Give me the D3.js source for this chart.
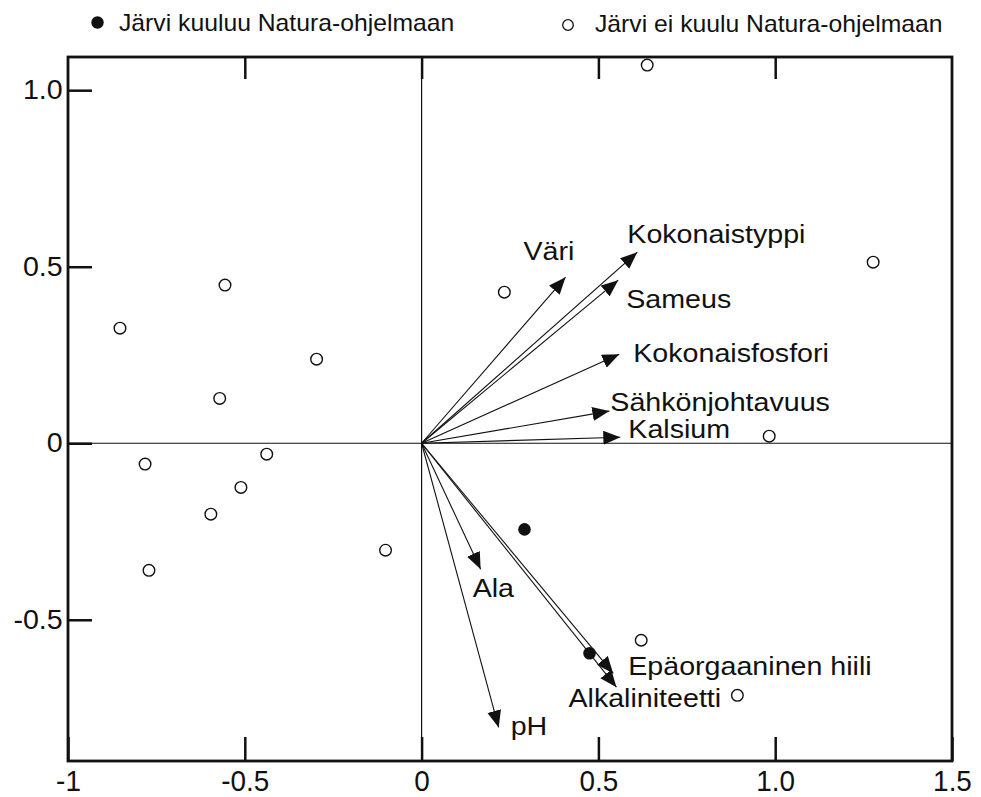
<!DOCTYPE html>
<html>
<head>
<meta charset="utf-8">
<script src="https://cdn.jsdelivr.net/npm/d3@7"></script>
<style>
  body { margin: 0; background: #fff; }
  svg { display: block; font-family: "Liberation Sans", Arial, Helvetica, sans-serif; }
</style>
</head>
<body>
<svg id="chart" width="981" height="797"></svg>
<script>
// Ordination biplot - lakes and environmental variables

// lakes in Natura programme (filled dots)
const naturaX = [0.291, 0.475];
const naturaY = [-0.244, -0.595];

// lakes not in Natura programme (open circles)
const otherX = [0.638, 1.277, 0.234, -0.853, -0.556, -0.297, -0.571, -0.782, -0.438, -0.511, -0.596, -0.771, -0.102, 0.621, 0.893, 0.983];
const otherY = [1.071, 0.513, 0.428, 0.326, 0.448, 0.238, 0.127, -0.059, -0.031, -0.125, -0.201, -0.360, -0.303, -0.558, -0.714, 0.020];

// environmental variable arrows
const varNames = ['Väri', 'Kokonaistyppi', 'Sameus', 'Kokonaisfosfori', 'Sähkönjohtavuus', 'Kalsium', 'Ala', 'pH', 'Epäorgaaninen hiili', 'Alkaliniteetti'];
const varX = [0.407, 0.610, 0.556, 0.559, 0.531, 0.562, 0.167, 0.218, 0.542, 0.551];
const varY = [0.470, 0.541, 0.462, 0.252, 0.091, 0.017, -0.357, -0.805, -0.652, -0.691];

// tick values
const xTicks = [-1, -0.5, 0, 0.5, 1.0, 1.5];
const xTickLabels = ['-1', '-0.5', '0', '0.5', '1.0', '1.5'];
const yTicks = [-0.5, 0, 0.5, 1.0];
const yTickLabels = ['-0.5', '0', '0.5', '1.0'];

const legendLabels = ['Järvi kuuluu Natura-ohjelmaan', 'Järvi ei kuulu Natura-ohjelmaan'];

// label offsets from arrow tips (px)
const labelOffsets = [[-42, -17], [-10, -9], [8, 28], [14, 8], [1, 0], [8, 1], [-8, 28], [12, 8], [15, 2], [-48, 20]];

const svg = d3.select('#chart');
const plotL = 68, plotR = 952, plotT = 57, plotB = 761;

const x = d3.scaleLinear().domain([-1, 1.5]).range([plotL, plotR]);
const y = d3.scaleLinear().domain([-0.9, 1.094]).range([plotB, plotT]);

// arrow head
svg.append('defs').append('marker')
    .attr('id', 'head')
    .attr('markerUnits', 'userSpaceOnUse')
    .attr('markerWidth', 19)
    .attr('markerHeight', 16)
    .attr('refX', 17)
    .attr('refY', 7)
    .attr('orient', 'auto')
    .append('path')
    .attr('d', 'M0,0 L17,7 L0,14 Z')
    .attr('fill', '#111');

// zero lines
svg.append('line')
    .attr('x1', plotL).attr('x2', plotR)
    .attr('y1', y(0)).attr('y2', y(0))
    .attr('stroke', '#111').attr('stroke-width', 1.2);
svg.append('line')
    .attr('x1', x(0)).attr('x2', x(0))
    .attr('y1', plotT).attr('y2', plotB)
    .attr('stroke', '#111').attr('stroke-width', 1.2);

// axes (ticks point inward)
const xAxis = svg.append('g')
    .attr('transform', `translate(0,${plotB})`)
    .call(d3.axisBottom(x).tickValues(xTicks)
        .tickFormat((d, i) => xTickLabels[i])
        .tickSizeInner(-24).tickSizeOuter(0).tickPadding(9));

const xAxisTop = svg.append('g')
    .attr('transform', `translate(0,${plotT})`)
    .call(d3.axisTop(x).tickValues(xTicks.slice(1, -1))
        .tickFormat('')
        .tickSizeInner(-22).tickSizeOuter(0));

const yAxis = svg.append('g')
    .attr('transform', `translate(${plotL},0)`)
    .call(d3.axisLeft(y).tickValues(yTicks)
        .tickFormat((d, i) => yTickLabels[i])
        .tickSizeInner(-24).tickSizeOuter(0).tickPadding(5));

[xAxis, xAxisTop, yAxis].forEach(g => {
    g.select('.domain').remove();
    g.selectAll('line').attr('stroke', '#111').attr('stroke-width', 2.5);
    g.selectAll('text').attr('fill', '#111');
    g.attr('font-family', null);
});
xAxis.selectAll('text').attr('font-size', 30).attr('transform', 'scale(0.93,1)');
yAxis.selectAll('text').attr('font-size', 27).attr('transform', 'scale(1.06,1)');

// frame
svg.append('rect')
    .attr('x', plotL).attr('y', plotT)
    .attr('width', plotR - plotL).attr('height', plotB - plotT)
    .attr('fill', 'none').attr('stroke', '#111').attr('stroke-width', 2.8);

// arrows
const vars = varNames.map((n, i) => ({ name: n, x: varX[i], y: varY[i], off: labelOffsets[i] }));

svg.append('g').selectAll('line')
    .data(vars).enter()
    .append('line')
    .attr('x1', x(0)).attr('y1', y(0))
    .attr('x2', d => x(d.x)).attr('y2', d => y(d.y))
    .attr('stroke', '#111').attr('stroke-width', 1.1)
    .attr('marker-end', 'url(#head)');

svg.append('g').selectAll('text')
    .data(vars).enter()
    .append('text')
    .attr('transform', d => `translate(${x(d.x) + d.off[0]},${y(d.y) + d.off[1]}) scale(1.08,1)`)
    .attr('font-size', 26.5)
    .attr('fill', '#111')
    .text(d => d.name);

// points
svg.append('g').selectAll('circle')
    .data(otherX.map((v, i) => [v, otherY[i]])).enter()
    .append('circle')
    .attr('cx', d => x(d[0])).attr('cy', d => y(d[1]))
    .attr('r', 5.8)
    .attr('fill', '#fff').attr('stroke', '#111').attr('stroke-width', 1.4);

svg.append('g').selectAll('circle')
    .data(naturaX.map((v, i) => [v, naturaY[i]])).enter()
    .append('circle')
    .attr('cx', d => x(d[0])).attr('cy', d => y(d[1]))
    .attr('r', 6.3)
    .attr('fill', '#111');

// legend
const legend = svg.append('g');
legend.append('circle').attr('cx', 97.5).attr('cy', 22.5).attr('r', 6.2).attr('fill', '#111');
legend.append('text')
    .attr('transform', 'translate(119,31) scale(1.03,1)')
    .attr('font-size', 24).attr('fill', '#111')
    .text(legendLabels[0]);
legend.append('circle').attr('cx', 568).attr('cy', 25).attr('r', 5.3)
    .attr('fill', '#fff').attr('stroke', '#111').attr('stroke-width', 1.3);
legend.append('text')
    .attr('transform', 'translate(595,32) scale(1.03,1)')
    .attr('font-size', 24).attr('fill', '#111')
    .text(legendLabels[1]);
</script>
</body>
</html>
